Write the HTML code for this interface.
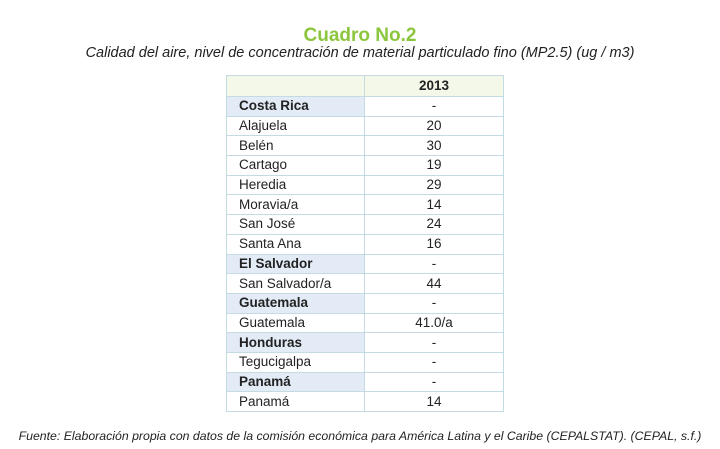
<!DOCTYPE html>
<html><head><meta charset="utf-8"><style>
body{margin:0;width:720px;height:449px;background:#fff;font-family:"Liberation Sans",sans-serif;position:relative;overflow:hidden}
.t{position:absolute;left:0;width:720px;text-align:center;top:25px;font-size:19px;font-weight:bold;color:#8cc63e}
.s{position:absolute;left:0;width:720px;text-align:center;top:45px;font-size:14.5px;font-style:italic;color:#222}
table{position:absolute;left:226px;top:75px;border-collapse:collapse;font-size:13.5px;color:#222}
td{border:1px solid #c4dbe4;height:18.7px;padding:0;line-height:18px}
td:first-child{width:125px;padding-left:12px}
td:last-child{width:138px;text-align:center}
tr.h td{background:#f4f8e8;font-weight:bold;height:20px}
tr.g td:first-child{background:#e3ecf6;font-weight:bold}
.f{position:absolute;left:0;width:720px;text-align:center;top:429px;font-size:12.3px;font-style:italic;color:#222;white-space:nowrap}
</style></head><body>
<div class="t">Cuadro No.2</div>
<div class="s">Calidad del aire, nivel de concentración de material particulado fino (MP2.5) (ug / m3)</div>
<table>
<tr class="h"><td></td><td>2013</td></tr>
<tr class="g"><td>Costa Rica</td><td>-</td></tr>
<tr><td>Alajuela</td><td>20</td></tr>
<tr><td>Belén</td><td>30</td></tr>
<tr><td>Cartago</td><td>19</td></tr>
<tr><td>Heredia</td><td>29</td></tr>
<tr><td>Moravia/a</td><td>14</td></tr>
<tr><td>San José</td><td>24</td></tr>
<tr><td>Santa Ana</td><td>16</td></tr>
<tr class="g"><td>El Salvador</td><td>-</td></tr>
<tr><td>San Salvador/a</td><td>44</td></tr>
<tr class="g"><td>Guatemala</td><td>-</td></tr>
<tr><td>Guatemala</td><td>41.0/a</td></tr>
<tr class="g"><td>Honduras</td><td>-</td></tr>
<tr><td>Tegucigalpa</td><td>-</td></tr>
<tr class="g"><td>Panamá</td><td>-</td></tr>
<tr><td>Panamá</td><td>14</td></tr>
</table>
<div class="f">Fuente: Elaboración propia con datos de la comisión económica para América Latina y el Caribe (CEPALSTAT). (CEPAL, s.f.)</div>
</body></html>
